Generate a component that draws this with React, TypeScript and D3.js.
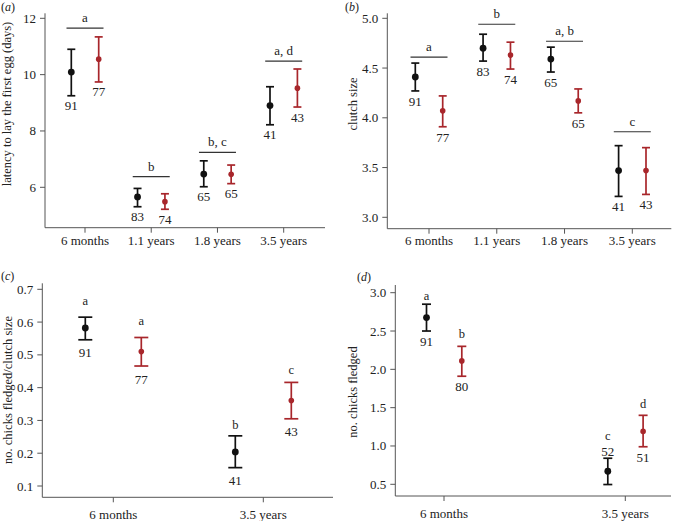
import React from "react";
import * as d3 from "d3";

// ---------- data ----------
const catsAB = ["6 months", "1.1 years", "1.8 years", "3.5 years"];
const catsCD = ["6 months", "3.5 years"];

// (a) latency to lay first egg
const aBlackMean = [10.09, 5.66, 6.47, 8.9];
const aBlackLo = [9.25, 5.31, 6.02, 8.22];
const aBlackHi = [10.9, 5.96, 6.94, 9.57];
const aBlackN = ["91", "83", "65", "41"];
const aRedMean = [10.55, 5.49, 6.46, 9.52];
const aRedLo = [9.74, 5.22, 6.13, 8.85];
const aRedHi = [11.34, 5.77, 6.79, 10.2];
const aRedN = ["77", "74", "65", "43"];
const aGroupLetters = ["a", "b", "b, c", "a, d"];
const aGroupBarY = [11.65, 6.38, 7.24, 10.48];
const aTicks = [6, 8, 10, 12];

// (b) clutch size
const bBlackMean = [4.41, 4.7, 4.59, 3.47];
const bBlackLo = [4.27, 4.57, 4.46, 3.21];
const bBlackHi = [4.55, 4.84, 4.71, 3.72];
const bBlackN = ["91", "83", "65", "41"];
const bRedMean = [4.07, 4.63, 4.17, 3.47];
const bRedLo = [3.91, 4.49, 4.05, 3.23];
const bRedHi = [4.22, 4.76, 4.29, 3.7];
const bRedN = ["77", "74", "65", "43"];
const bGroupLetters = ["a", "b", "a, b", "c"];
const bGroupBarY = [4.61, 4.94, 4.77, 3.86];
const bTicks = [3.0, 3.5, 4.0, 4.5, 5.0];

// (c) chicks fledged / clutch size
const cBlackMean = [0.582, 0.204];
const cBlackLo = [0.546, 0.156];
const cBlackHi = [0.615, 0.253];
const cBlackN = ["91", "41"];
const cBlackLetters = ["a", "b"];
const cBlackLetterY = [0.653, 0.274];
const cRedMean = [0.51, 0.361];
const cRedLo = [0.466, 0.305];
const cRedHi = [0.553, 0.416];
const cRedN = ["77", "43"];
const cRedLetters = ["a", "c"];
const cRedLetterY = [0.592, 0.441];
const cTicks = [0.1, 0.2, 0.3, 0.4, 0.5, 0.6, 0.7];

// (d) chicks fledged
const dBlackMean = [2.675, 0.67];
const dBlackLo = [2.5, 0.497];
const dBlackHi = [2.85, 0.84];
const dBlackN = ["91", "52"];
const dBlackNAbove = [false, true];
const dBlackNAboveY = [0, 0.875];
const dBlackLetters = ["a", "c"];
const dBlackLetterY = [2.909, 1.082];
const dRedMean = [2.11, 1.19];
const dRedLo = [1.91, 0.99];
const dRedHi = [2.3, 1.4];
const dRedN = ["80", "51"];
const dRedLetters = ["b", "d"];
const dRedLetterY = [2.415, 1.498];
const dTicks = [0.5, 1.0, 1.5, 2.0, 2.5, 3.0];

// ---------- styles ----------
const FONT = "'Liberation Serif', 'DejaVu Serif', serif";
const BLACK = "#111111";
const RED = "#a8262b";
const AXIS = "#555555";
const TEXT = "#222222";

type Series = {
  mean: number[];
  lo: number[];
  hi: number[];
  n: string[];
  color: string;
  r: number;
  dx: number;
  nAbove?: boolean[];
  nAboveY?: number[];
  letters?: string[];
  letterY?: number[];
};

type PanelProps = {
  label: string;
  title: string;
  cats: string[];
  ticks: number[];
  fmt: (v: number) => string;
  yDomain: [number, number];
  yRange: [number, number];
  axisTop: number;
  axisBottom: number;
  xAxis: [number, number];
  tickRange: [number, number];
  xLabelY: number;
  titleX: number;
  titleY: number;
  labelX: number;
  labelY: number;
  cap: number;
  nGap: number;
  series: Series[];
  groupLetters?: string[];
  groupBarY?: number[];
  groupHalf?: number;
};

function Panel(p: PanelProps) {
  const y = d3.scaleLinear().domain(p.yDomain).range(p.yRange);
  const x = d3.scalePoint<string>().domain(p.cats).range(p.tickRange);
  const yAxisX = p.xAxis[0];
  return (
    <g>
      {/* panel label */}
      <text x={p.labelX} y={p.labelY} fontFamily={FONT} fontSize={12} fill={TEXT}>
        (<tspan fontStyle="italic">{p.label}</tspan>)
      </text>
      {/* y title */}
      <text
        transform={`translate(${p.titleX},${p.titleY}) rotate(-90)`}
        textAnchor="middle"
        dominantBaseline="central"
        fontFamily={FONT}
        fontSize={12.5}
        fill={TEXT}
      >
        {p.title}
      </text>
      {/* axes */}
      <line x1={yAxisX} x2={yAxisX} y1={p.axisTop} y2={p.axisBottom} stroke={AXIS} strokeWidth={1} />
      <line x1={p.xAxis[0]} x2={p.xAxis[1]} y1={p.axisBottom} y2={p.axisBottom} stroke={AXIS} strokeWidth={1} />
      {p.ticks.map((t) => (
        <g key={"yt" + t}>
          <line x1={yAxisX - 5} x2={yAxisX} y1={y(t)} y2={y(t)} stroke={AXIS} strokeWidth={1} />
          <text
            x={yAxisX - 9}
            y={y(t)}
            textAnchor="end"
            dominantBaseline="central"
            fontFamily={FONT}
            fontSize={13}
            fill={TEXT}
          >
            {p.fmt(t)}
          </text>
        </g>
      ))}
      {p.cats.map((c) => (
        <g key={"xt" + c}>
          <line x1={x(c)!} x2={x(c)!} y1={p.axisBottom} y2={p.axisBottom + 5} stroke={AXIS} strokeWidth={1} />
          <text x={x(c)!} y={p.xLabelY} textAnchor="middle" fontFamily={FONT} fontSize={13} fill={TEXT}>
            {c}
          </text>
        </g>
      ))}
      {/* group significance bars */}
      {p.groupLetters &&
        p.groupLetters.map((l, i) => {
          const cx = x(p.cats[i])!;
          const yy = y(p.groupBarY![i]);
          return (
            <g key={"gb" + i}>
              <line x1={cx - p.groupHalf!} x2={cx + p.groupHalf!} y1={yy} y2={yy} stroke="#333" strokeWidth={1.1} />
              <text x={cx} y={yy - 6} textAnchor="middle" fontFamily={FONT} fontSize={13} fill={TEXT}>
                {l}
              </text>
            </g>
          );
        })}
      {/* series */}
      {p.series.map((s, si) =>
        p.cats.map((c, i) => {
          const cx = x(c)! + s.dx;
          const yHi = y(s.hi[i]);
          const yLo = y(s.lo[i]);
          const above = s.nAbove ? s.nAbove[i] : false;
          return (
            <g key={"s" + si + "_" + i}>
              <line x1={cx} x2={cx} y1={yHi} y2={yLo} stroke={s.color} strokeWidth={1.7} />
              <line x1={cx - p.cap} x2={cx + p.cap} y1={yHi} y2={yHi} stroke={s.color} strokeWidth={1.7} />
              <line x1={cx - p.cap} x2={cx + p.cap} y1={yLo} y2={yLo} stroke={s.color} strokeWidth={1.7} />
              <circle cx={cx} cy={y(s.mean[i])} r={s.r} fill={s.color} />
              <text
                x={cx}
                y={above ? y(s.nAboveY![i]) : yLo + p.nGap}
                textAnchor="middle"
                fontFamily={FONT}
                fontSize={13}
                fill={TEXT}
              >
                {s.n[i]}
              </text>
              {s.letters && (
                <text x={cx} y={y(s.letterY![i])} textAnchor="middle" fontFamily={FONT} fontSize={12.5} fill={TEXT}>
                  {s.letters[i]}
                </text>
              )}
            </g>
          );
        })
      )}
    </g>
  );
}

const f0 = (v: number) => d3.format("d")(v);
const f1 = (v: number) => d3.format(".1f")(v);

export default function App() {
  return (
    <svg width={676} height={521} style={{ position: "absolute", left: 0, top: 0, background: "#fff" }}>
      <rect width={676} height={521} fill="#fff" />
      <Panel
        label="a"
        title="latency to lay the first egg (days)"
        cats={catsAB}
        ticks={aTicks}
        fmt={f0}
        yDomain={[6, 12]}
        yRange={[187.3, 18.3]}
        axisTop={13.3}
        axisBottom={227.7}
        xAxis={[45, 325]}
        tickRange={[85, 283.7]}
        xLabelY={245}
        titleX={7}
        titleY={104}
        labelX={1}
        labelY={11}
        cap={4}
        nGap={14.5}
        groupLetters={aGroupLetters}
        groupBarY={aGroupBarY}
        groupHalf={18.5}
        series={[
          { mean: aBlackMean, lo: aBlackLo, hi: aBlackHi, n: aBlackN, color: BLACK, r: 3.4, dx: -13.7 },
          { mean: aRedMean, lo: aRedLo, hi: aRedHi, n: aRedN, color: RED, r: 2.8, dx: 13.7 },
        ]}
      />
      <Panel
        label="b"
        title="clutch size"
        cats={catsAB}
        ticks={bTicks}
        fmt={f1}
        yDomain={[3, 5]}
        yRange={[217.3, 18.3]}
        axisTop={13.3}
        axisBottom={228.7}
        xAxis={[387.3, 671.3]}
        tickRange={[429, 632.3]}
        xLabelY={245}
        titleX={353}
        titleY={104}
        labelX={345}
        labelY={11}
        cap={4}
        nGap={15}
        groupLetters={bGroupLetters}
        groupBarY={bGroupBarY}
        groupHalf={18.5}
        series={[
          { mean: bBlackMean, lo: bBlackLo, hi: bBlackHi, n: bBlackN, color: BLACK, r: 3.4, dx: -13.7 },
          { mean: bRedMean, lo: bRedLo, hi: bRedHi, n: bRedN, color: RED, r: 2.8, dx: 13.7 },
        ]}
      />
      <Panel
        label="c"
        title="no. chicks fledged/clutch size"
        cats={catsCD}
        ticks={cTicks}
        fmt={f1}
        yDomain={[0.1, 0.7]}
        yRange={[486, 289.3]}
        axisTop={283.3}
        axisBottom={497.3}
        xAxis={[42.3, 333]}
        tickRange={[113.3, 263.3]}
        xLabelY={518.5}
        titleX={8}
        titleY={390}
        labelX={1}
        labelY={280}
        cap={7}
        nGap={17.5}
        series={[
          {
            mean: cBlackMean, lo: cBlackLo, hi: cBlackHi, n: cBlackN, color: BLACK, r: 3.4, dx: -28,
            letters: cBlackLetters, letterY: cBlackLetterY,
          },
          {
            mean: cRedMean, lo: cRedLo, hi: cRedHi, n: cRedN, color: RED, r: 2.8, dx: 28,
            letters: cRedLetters, letterY: cRedLetterY,
          },
        ]}
      />
      <Panel
        label="d"
        title="no. chicks fledged"
        cats={catsCD}
        ticks={dTicks}
        fmt={f1}
        yDomain={[0.5, 3.0]}
        yRange={[484.3, 292.7]}
        axisTop={285}
        axisBottom={496}
        xAxis={[395.3, 671]}
        tickRange={[444, 625.3]}
        xLabelY={518}
        titleX={353}
        titleY={392}
        labelX={357}
        labelY={281}
        cap={4.5}
        nGap={15}
        series={[
          {
            mean: dBlackMean, lo: dBlackLo, hi: dBlackHi, n: dBlackN, color: BLACK, r: 3.4, dx: -17.5,
            nAbove: dBlackNAbove, nAboveY: dBlackNAboveY, letters: dBlackLetters, letterY: dBlackLetterY,
          },
          {
            mean: dRedMean, lo: dRedLo, hi: dRedHi, n: dRedN, color: RED, r: 2.8, dx: 17.8,
            letters: dRedLetters, letterY: dRedLetterY,
          },
        ]}
      />
    </svg>
  );
}
